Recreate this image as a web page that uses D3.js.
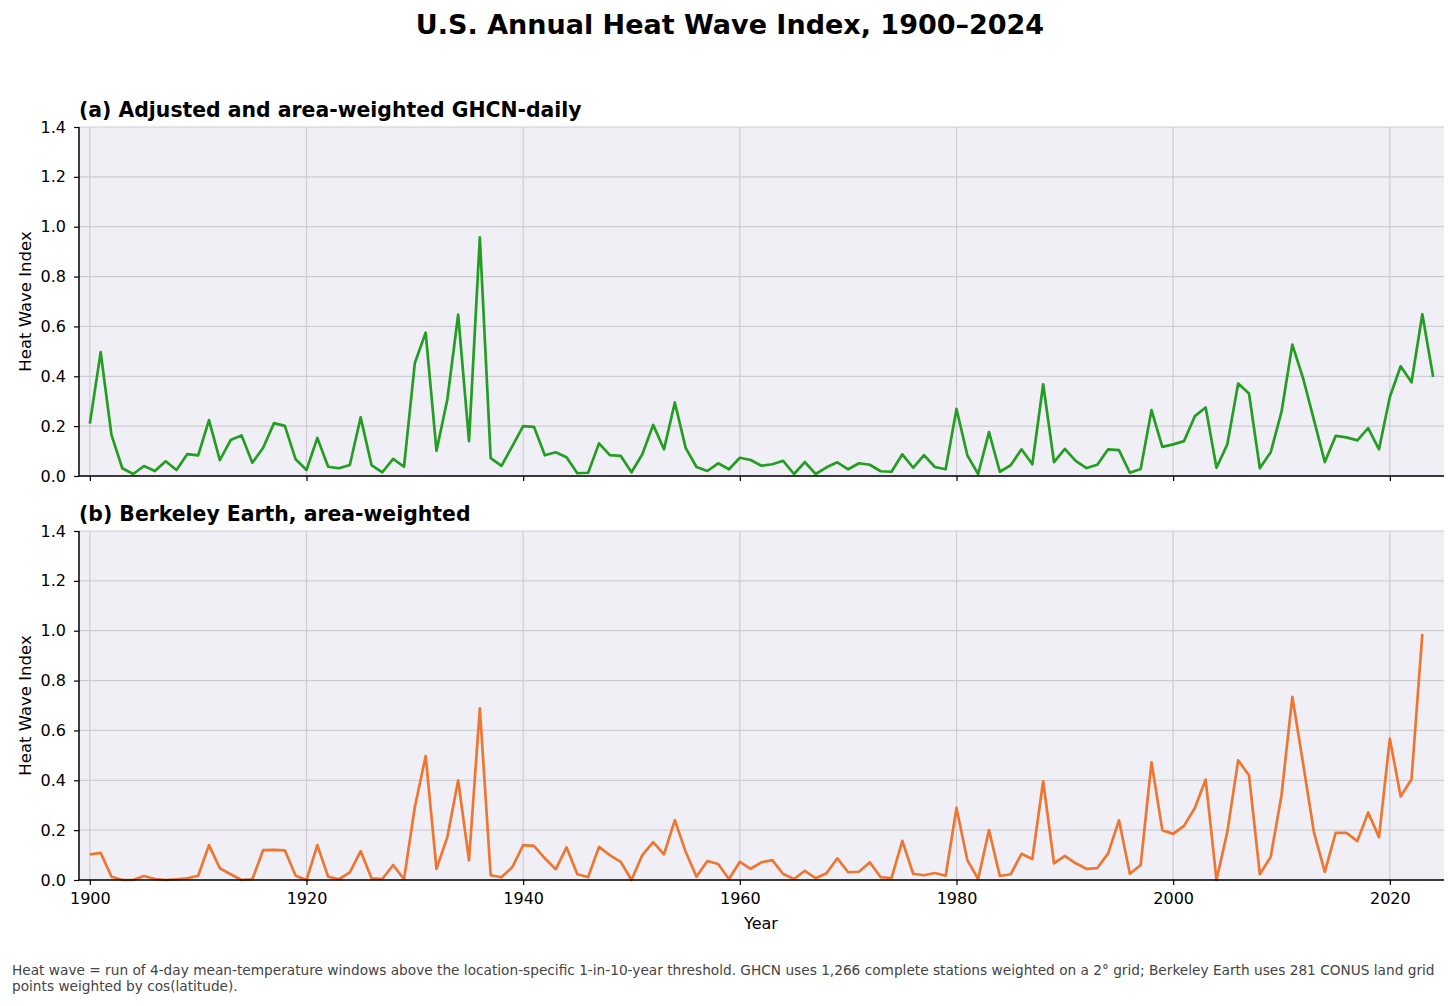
<!DOCTYPE html>
<html><head><meta charset="utf-8">
<script src="https://cdn.jsdelivr.net/npm/d3@7"></script>
<style>body{margin:0;background:#fff;font-family:"DejaVu Sans",sans-serif}</style>
</head><body>
<svg id="c" width="1456" height="1006"></svg>
<script>
const years = d3.range(1900, 2025);
const ghcn = [0.21,0.497,0.164,0.031,0.008,0.04,0.02,0.059,0.024,0.088,
0.083,0.224,0.064,0.144,0.163,0.053,0.113,0.212,0.201,0.067,
0.024,0.153,0.037,0.031,0.044,0.235,0.044,0.015,0.069,0.037,
0.453,0.575,0.101,0.307,0.647,0.14,0.957,0.072,0.041,0.12,
0.2,0.197,0.083,0.095,0.075,0.011,0.013,0.131,0.084,0.081,
0.015,0.087,0.205,0.107,0.295,0.113,0.036,0.02,0.051,0.027,
0.073,0.064,0.041,0.047,0.061,0.008,0.056,0.008,0.035,0.055,
0.027,0.051,0.045,0.019,0.017,0.087,0.033,0.084,0.036,0.027,
0.269,0.083,0.008,0.176,0.017,0.043,0.107,0.047,0.368,0.056,
0.109,0.061,0.032,0.045,0.107,0.104,0.013,0.028,0.264,0.117,
0.127,0.14,0.24,0.275,0.033,0.127,0.371,0.331,0.031,0.095,
0.257,0.527,0.391,0.224,0.056,0.161,0.155,0.143,0.192,0.107,
0.317,0.44,0.376,0.649,0.397];
const berkeley = [0.103,0.109,0.013,0.0,0.0,0.016,0.004,0.0,0.003,0.007,
0.017,0.14,0.047,0.023,0.0,0.003,0.12,0.121,0.119,0.017,
0.0,0.14,0.013,0.003,0.031,0.116,0.007,0.004,0.06,0.003,
0.293,0.497,0.045,0.172,0.4,0.079,0.689,0.019,0.011,0.052,
0.14,0.137,0.087,0.043,0.131,0.023,0.012,0.133,0.1,0.073,
0.0,0.1,0.152,0.103,0.24,0.113,0.013,0.076,0.064,0.004,
0.073,0.045,0.071,0.08,0.024,0.004,0.037,0.007,0.027,0.087,
0.031,0.033,0.071,0.011,0.008,0.157,0.025,0.019,0.028,0.017,
0.289,0.08,0.004,0.2,0.016,0.023,0.105,0.084,0.396,0.067,
0.097,0.067,0.045,0.048,0.107,0.24,0.025,0.06,0.472,0.2,
0.185,0.217,0.289,0.403,0.0,0.193,0.48,0.42,0.023,0.092,
0.34,0.735,0.465,0.19,0.033,0.189,0.189,0.156,0.271,0.172,
0.567,0.335,0.404,0.987];
const yTicks = [0,0.2,0.4,0.6,0.8,1.0,1.2,1.4];
const xTicks = [1900,1920,1940,1960,1980,2000,2020];
const title = "U.S. Annual Heat Wave Index, 1900–2024";
const panels = [
  {name:"(a) Adjusted and area-weighted GHCN-daily", values: ghcn, color:"#239e23", top:127, labels:false},
  {name:"(b) Berkeley Earth, area-weighted", values: berkeley, color:"#ee7631", top:531, labels:true}
];
const note1 = "Heat wave = run of 4-day mean-temperature windows above the location-specific 1-in-10-year threshold. GHCN uses 1,266 complete stations weighted on a 2° grid; Berkeley Earth uses 281 CONUS land grid";
const note2 = "points weighted by cos(latitude).";

const svg = d3.select("#c");
const L = 79, R = 1444, H = 349;
const x = d3.scaleLinear().domain([1899, 2025]).range([L, R]);

svg.append("text").attr("x", 730).attr("y", 34).attr("text-anchor","middle")
  .attr("font-size", 27).attr("font-weight","bold").text(title);

panels.forEach(p => {
  const y = d3.scaleLinear().domain([0,1.4]).range([p.top + H, p.top]);
  const g = svg.append("g");
  g.append("rect").attr("x", L).attr("y", p.top).attr("width", R-L).attr("height", H).attr("fill","#f1eff6");
  g.selectAll(".hg").data(yTicks).join("line")
    .attr("x1", L).attr("x2", R).attr("y1", d=>y(d)).attr("y2", d=>y(d))
    .attr("stroke","#cfcdd4").attr("stroke-width",1.2);
  g.selectAll(".vg").data(xTicks).join("line")
    .attr("x1", d=>x(d)).attr("x2", d=>x(d)).attr("y1", p.top).attr("y2", p.top+H)
    .attr("stroke","#cfcdd4").attr("stroke-width",1.2);
  const line = d3.line().x((d,i)=>x(years[i])).y(d=>y(d));
  g.append("path").datum(p.values).attr("d", line).attr("fill","none")
    .attr("stroke", p.color).attr("stroke-width", 2.7).attr("stroke-linejoin","round");
  const ya = d3.axisLeft(y).tickValues(yTicks).tickFormat(d3.format(".1f")).tickSize(5).tickPadding(8);
  const yg = g.append("g").attr("transform",`translate(${L},0)`).call(ya);
  const xa = d3.axisBottom(x).tickValues(xTicks).tickFormat(p.labels ? d3.format("d") : "").tickSize(5).tickPadding(8);
  const xg = g.append("g").attr("transform",`translate(0,${p.top+H})`).call(xa);
  [yg,xg].forEach(a => {
    a.selectAll("text").attr("font-size",16).attr("font-family","DejaVu Sans").attr("fill","#000");
    a.selectAll("line").attr("stroke","#000").attr("stroke-width",1.2);
    a.select(".domain").attr("stroke","#000").attr("stroke-width",1.5);
  });
  yg.select(".domain").attr("d", `M0,${p.top+H}V${p.top}`);
  xg.select(".domain").attr("d", `M${L},0H${R}`);
  g.append("text").attr("x", L).attr("y", p.top - 10).attr("font-size",20.4).attr("font-weight","bold").text(p.name);
  g.append("text").attr("transform",`translate(31,${p.top+H/2}) rotate(-90)`).attr("text-anchor","middle")
    .attr("font-size",16.5).text("Heat Wave Index");
});

svg.append("text").attr("x", 761).attr("y", 929).attr("text-anchor","middle").attr("font-size",16).text("Year");
svg.append("text").attr("x", 12).attr("y", 975).attr("font-size",13.7).attr("fill","#444").text(note1);
svg.append("text").attr("x", 12).attr("y", 991).attr("font-size",13.7).attr("fill","#444").text(note2);
</script>
</body></html>
